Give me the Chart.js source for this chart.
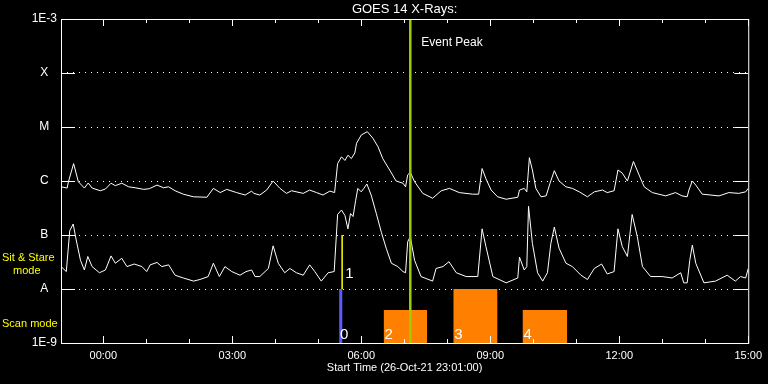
<!DOCTYPE html>
<html>
<head>
<meta charset="utf-8">
<script src="https://cdn.jsdelivr.net/npm/chart.js@4"></script>
<style>
  body { margin: 0; background: #000; }
  #wrap { width: 768px; height: 384px; }
</style>
</head>
<body>
<div id="wrap"><canvas id="goesChart"></canvas></div>
<script>
/* Data: hours from 00:00 (27-Oct), flux in W/m^2 */
const longHours = [-0.98,-0.84,-0.81,-0.69,-0.58,-0.44,-0.35,-0.26,-0.07,0.05,
  0.18,0.28,0.43,0.59,0.74,0.94,1.07,1.25,1.40,1.52,
  1.67,1.86,2.10,2.41,2.56,2.72,2.87,3.10,3.30,3.45,
  3.50,3.64,3.80,3.95,4.11,4.26,4.38,4.65,4.80,4.96,
  5.11,5.27,5.38,5.45,5.54,5.62,5.69,5.77,5.85,5.89,
  6.00,6.14,6.27,6.39,6.50,6.66,6.81,6.97,7.03,7.08,
  7.14,7.24,7.43,7.66,7.86,8.05,8.28,8.59,8.73,8.81,
  8.90,9.02,9.17,9.37,9.64,9.68,9.79,9.85,9.91,9.98,
  10.06,10.18,10.30,10.39,10.49,10.60,10.76,10.91,11.07,11.26,
  11.42,11.61,11.72,11.88,11.97,12.07,12.19,12.33,12.46,12.58,
  12.77,13.08,13.31,13.46,13.58,13.62,13.70,13.78,13.93,14.32,
  14.55,14.78,14.94,15.00];
const longFlux = [7.8e-7,7.4e-7,9.7e-7,2.1e-6,9.7e-7,7.4e-7,9.2e-7,7.4e-7,6.6e-7,7.1e-7,
  9.1e-7,8.2e-7,9.1e-7,7.8e-7,7.5e-7,7.0e-7,7.2e-7,8.4e-7,7.5e-7,7.8e-7,
  6.6e-7,5.7e-7,5.1e-7,5.0e-7,7.3e-7,6.1e-7,7.0e-7,6.1e-7,5.5e-7,6.5e-7,
  5.9e-7,5.5e-7,6.8e-7,1.0e-6,7.3e-7,5.9e-7,6.6e-7,5.9e-7,6.8e-7,6.1e-7,
  5.5e-7,6.5e-7,6.1e-7,2.1e-6,2.8e-6,2.4e-6,3.0e-6,2.6e-6,3.3e-6,5.0e-6,
  7.1e-6,8.2e-6,6.2e-6,4.3e-6,2.6e-6,1.6e-6,1.0e-6,9.1e-7,7.8e-7,1.3e-6,
  1.45e-6,9.7e-7,5.9e-7,4.8e-7,6.6e-7,7.3e-7,6.1e-7,5.7e-7,5.7e-7,1.7e-6,
  1.1e-6,6.8e-7,5.1e-7,4.6e-7,5.0e-7,6.8e-7,7.3e-7,6.3e-7,2.7e-6,1.6e-6,
  7.3e-7,5.1e-7,5.3e-7,9.1e-7,1.55e-6,1.0e-6,7.8e-7,7.3e-7,6.3e-7,5.1e-7,
  6.3e-7,6.8e-7,6.1e-7,6.6e-7,1.6e-6,1.4e-6,1.0e-6,2.3e-6,1.3e-6,7.8e-7,
  6.1e-7,5.3e-7,6.1e-7,5.3e-7,5.1e-7,6.8e-7,1.0e-6,8.4e-7,5.7e-7,5.3e-7,
  6.1e-7,5.9e-7,6.3e-7,7.3e-7];

const shortHours = [-0.98,-0.86,-0.78,-0.70,-0.63,-0.53,-0.44,-0.36,-0.26,-0.09,
  0.05,0.18,0.28,0.43,0.55,0.72,0.90,1.01,1.09,1.25,
  1.36,1.52,1.67,1.86,2.10,2.25,2.44,2.56,2.70,2.83,
  2.99,3.18,3.32,3.45,3.53,3.64,3.84,3.95,4.07,4.22,
  4.34,4.49,4.65,4.80,4.92,5.07,5.23,5.37,5.45,5.54,
  5.62,5.69,5.75,5.81,5.87,5.92,6.00,6.06,6.13,6.23,
  6.35,6.47,6.58,6.70,6.85,6.97,7.03,7.08,7.14,7.24,
  7.39,7.66,7.74,7.90,8.04,8.21,8.44,8.71,8.81,8.90,
  9.06,9.37,9.64,9.68,9.79,9.85,9.89,9.98,10.10,10.22,
  10.33,10.41,10.49,10.60,10.76,10.91,11.11,11.26,11.42,11.59,
  11.72,11.88,11.97,12.07,12.19,12.30,12.42,12.54,12.73,13.00,
  13.23,13.43,13.50,13.58,13.64,13.70,13.78,13.97,14.24,14.51,
  14.70,14.82,14.94,15.00];
const shortFlux = [2.6e-8,2.1e-8,1.2e-7,1.6e-7,8.1e-8,3.4e-8,2.25e-8,4.0e-8,2.6e-8,2.0e-8,
  2.25e-8,4.1e-8,3.0e-8,3.7e-8,2.6e-8,2.9e-8,2.6e-8,2.1e-8,2.8e-8,3.1e-8,
  2.6e-8,2.8e-8,1.8e-8,1.6e-8,1.4e-8,1.5e-8,1.7e-8,3.0e-8,1.7e-8,2.6e-8,
  2.1e-8,1.8e-8,2.1e-8,2.25e-8,1.7e-8,1.7e-8,2.4e-8,6.3e-8,3.0e-8,2.0e-8,
  2.4e-8,2.0e-8,1.8e-8,2.8e-8,2.1e-8,1.4e-8,2.0e-8,2.1e-8,2.4e-7,2.9e-7,
  2.3e-7,1.3e-7,2.5e-7,2.2e-7,4.4e-7,7.3e-7,6.3e-7,7.3e-7,8.8e-7,5.5e-7,
  2.5e-7,1.1e-7,5.7e-8,3.0e-8,2.6e-8,2.1e-8,2.0e-8,7.5e-8,9.3e-8,3.4e-8,
  1.7e-8,1.4e-8,2.4e-8,2.6e-8,3.2e-8,2.0e-8,1.7e-8,1.7e-8,1.3e-7,6.1e-8,
  1.7e-8,1.3e-8,1.6e-8,3.9e-8,2.25e-8,2.6e-8,3.4e-7,7.0e-8,2.0e-8,1.4e-8,
  2.0e-8,7.0e-8,1.4e-7,5.7e-8,3.0e-8,2.6e-8,1.8e-8,1.5e-8,2.4e-8,2.9e-8,
  1.9e-8,2.1e-8,1.3e-7,6.1e-8,4.0e-8,2.4e-7,9.3e-8,2.6e-8,1.7e-8,1.7e-8,
  1.6e-8,2.0e-8,1.3e-8,1.3e-8,3.4e-8,6.5e-8,3.0e-8,1.3e-8,1.4e-8,1.8e-8,
  1.4e-8,1.7e-8,1.6e-8,2.4e-8];

// observation blocks
const scanLabels = ['0', '2', '3', '4'];
const scanStart = [5.485, 6.52, 8.14, 9.75];
const scanEnd = [5.565, 7.53, 9.17, 10.79];
const scanTop = [1e-8, 4.1e-9, 1e-8, 4.1e-9];
const sitLabel = '1';
const sitStart = 5.555;
const sitLow = 1e-8;
const sitHigh = 1e-7;
const eventPeak = 7.14;

// axes
const yTickValues = [1e-9, 1e-8, 1e-7, 1e-6, 1e-5, 1e-4, 1e-3];
const yTickLabels = ['1E-9', 'A', 'B', 'C', 'M', 'X', '1E-3'];
const xTickHours = [0, 1, 2, 3, 4, 5, 6, 7, 8, 9, 10, 11, 12, 13, 14, 15];
const timeLabels = ['00:00', '03:00', '06:00', '09:00', '12:00', '15:00'];
const xMin = -59 / 60;
const xMax = 15;
const chartTitle = 'GOES 14 X-Rays:';
const xTitle = 'Start Time (26-Oct-21 23:01:00)';

const FONT = '"Liberation Sans", Arial, sans-serif';
const ORANGE = '#ff8000';
const BLUE = '#5a5aff';

function points(xs, ys) {
    return xs.map((h, i) => ({x: h, y: ys[i]}));
}

// frame, inward ticks and annotation text
const goesDecor = {
    id: 'goesDecor',
    afterDatasetsDraw(chart) {
        const {ctx, chartArea: a, scales: {x, y}} = chart;
        ctx.save();
        ctx.strokeStyle = '#fff';
        ctx.lineWidth = 1;
        ctx.strokeRect(a.left + 0.5, a.top + 0.5, a.right - a.left, a.bottom - a.top);

        ctx.beginPath();
        xTickHours.forEach(h => {
            const px = Math.round(x.getPixelForValue(h)) + 0.5;
            const len = h % 3 === 0 ? 7 : 4;
            ctx.moveTo(px, a.bottom);
            ctx.lineTo(px, a.bottom - len);
            ctx.moveTo(px, a.top);
            ctx.lineTo(px, a.top + len);
        });
        yTickValues.forEach(v => {
            const py = Math.round(y.getPixelForValue(v)) + 0.5;
            ctx.moveTo(a.left, py);
            ctx.lineTo(a.left + 14, py);
            ctx.moveTo(a.right, py);
            ctx.lineTo(a.right - 14, py);
        });
        ctx.stroke();

        ctx.fillStyle = '#fff';
        ctx.textAlign = 'center';
        ctx.textBaseline = 'middle';
        ctx.font = '13px ' + FONT;
        ctx.fillText(chartTitle, (a.left + a.right) / 2, 9);

        ctx.textAlign = 'left';
        ctx.font = '12px ' + FONT;
        ctx.fillText('Event Peak', x.getPixelForValue(eventPeak) + 11, a.top + 24);

        ctx.textBaseline = 'alphabetic';
        ctx.font = '15px ' + FONT;
        scanLabels.forEach((lab, i) => {
            ctx.fillText(lab, x.getPixelForValue(scanStart[i]) + 1, a.bottom - 4);
        });
        ctx.fillText(sitLabel, x.getPixelForValue(sitStart) + 3, y.getPixelForValue(sitLow) - 11);

        // mode labels on the left
        ctx.fillStyle = '#ffff00';
        ctx.textBaseline = 'middle';
        ctx.font = '11px ' + FONT;
        const sitMid = y.getPixelForValue(Math.sqrt(sitLow * sitHigh));
        ctx.fillText('Sit & Stare', 2, sitMid - 4);
        ctx.fillText('mode', 13, sitMid + 9);
        ctx.fillText('Scan mode', 2, a.bottom - 19);
        ctx.restore();
    }
};

const datasets = [{
    data: points([eventPeak, eventPeak], [1e-9, 1e-3]),
    borderColor: '#9acd00',
    borderWidth: 2.5,
    order: 0
}, {
    data: points(longHours, longFlux),
    borderColor: '#ffffff',
    borderWidth: 1,
    order: 1
}, {
    data: points(shortHours, shortFlux),
    borderColor: '#ffffff',
    borderWidth: 1,
    order: 2
}, {
    data: points([sitStart, sitStart], [sitLow, sitHigh]),
    borderColor: '#ffff00',
    borderWidth: 1.5,
    order: 3
}];

scanStart.forEach((s, i) => {
    datasets.push({
        data: points([s, scanEnd[i]], [scanTop[i], scanTop[i]]),
        borderColor: 'rgba(0,0,0,0)',
        borderWidth: 1,
        backgroundColor: i === 0 ? BLUE : ORANGE,
        fill: 'start',
        order: 4 + i
    });
});

const myChart = new Chart(document.getElementById('goesChart'), {
    type: 'line',
    data: {datasets: datasets},
    options: {
        responsive: true,
        maintainAspectRatio: false,
        animation: false,
        layout: {padding: {left: 0, right: 18, top: 19, bottom: 0}},
        elements: {
            point: {radius: 0, hoverRadius: 0},
            line: {tension: 0}
        },
        plugins: {
            legend: {display: false},
            tooltip: {enabled: false}
        },
        scales: {
            x: {
                type: 'linear',
                min: xMin,
                max: xMax,
                grid: {display: false, drawTicks: false},
                border: {display: false},
                afterBuildTicks: s => { s.ticks = xTickHours.map(v => ({value: v})); },
                afterFit: s => { s.height = 41; },
                ticks: {
                    color: '#fff',
                    font: {family: FONT, size: 11},
                    padding: 6,
                    maxRotation: 0,
                    autoSkip: false,
                    callback: v => (v % 3 === 0 ? timeLabels[v / 3] : '')
                },
                title: {
                    display: true,
                    text: xTitle,
                    color: '#fff',
                    font: {family: FONT, size: 11},
                    padding: {top: 0, bottom: 9}
                }
            },
            y: {
                type: 'logarithmic',
                min: 1e-9,
                max: 1e-3,
                grid: {color: '#ffffff', lineWidth: 1, drawTicks: false},
                border: {display: false, dash: [1, 5]},
                afterBuildTicks: s => { s.ticks = yTickValues.map(v => ({value: v})); },
                afterFit: s => { s.width = 61; },
                ticks: {
                    color: '#fff',
                    font: {family: FONT, size: 12},
                    padding: 4,
                    crossAlign: 'center',
                    callback: (v, i) => yTickLabels[i]
                }
            }
        }
    },
    plugins: [goesDecor]
});
</script>
</body>
</html>
